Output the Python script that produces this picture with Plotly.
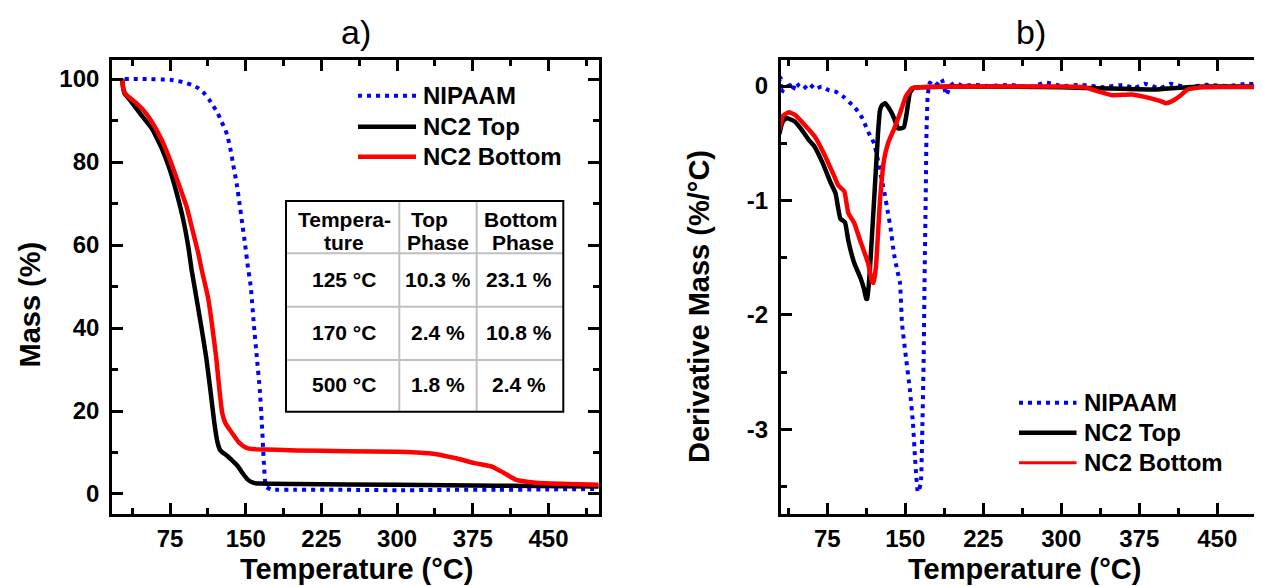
import plotly.graph_objects as go

# ---------------- data ----------------
series_names = ["NIPAAM", "NC2 Top", "NC2 Bottom"]

# a) Mass (%) vs Temperature (°C)
nipaam_mass_x = [30, 50, 75, 83.3, 90, 96.5, 103, 108.7, 113.6, 117.9, 122.2, 126.2, 129.5, 132.2, 135.1,
                 137.7, 141.1, 143.7, 146.6, 149.3, 152, 155, 158, 161, 164, 166, 168, 170, 175, 200, 250,
                 300, 350, 400, 450, 500]
nipaam_mass_y = [100, 100, 99.8, 99.5, 99.1, 98.6, 97.8, 96.6, 95.1, 93.5, 91.8, 89.6, 88, 86, 82.8,
                 79.2, 74.7, 70.3, 65.1, 60.3, 55, 50, 41, 33, 25, 17, 7.5, 1.8, 1.1, 1.0, 1.0,
                 0.9, 1.0, 1.0, 1.1, 1.2]

top_mass_x = [27.5, 28.5, 30, 35.4, 45.3, 56.9, 66.8, 75, 81.6, 88.2, 93.1, 96.4, 101, 106, 110.8, 115,
              119, 122, 124.6, 127, 130.6, 136, 142.5, 147, 152.3, 158, 165, 200, 300, 400, 500]
top_mass_y = [100, 98, 96.5, 94.9, 91.7, 88.1, 83.3, 78, 72.5, 66, 59.6, 54, 47.5, 40.3, 33, 25,
              17, 12.5, 10.6, 10, 9.4, 8.2, 6.6, 5, 3.4, 2.7, 2.5, 2.4, 2.2, 2.0, 1.8]

bottom_mass_x = [27.5, 28.2, 29, 32.1, 40.3, 48.6, 56.9, 66.8, 75, 83.3, 91.5, 98.1, 103, 106.4, 112.7,
                 116.5, 120.7, 124, 126.7, 130, 136.5, 143, 148, 152.3, 160, 200, 250, 300, 320, 339,
                 358.5, 376, 394, 405, 418, 437, 470, 503]
bottom_mass_y = [100, 98.5, 97.3, 96.1, 94.5, 92.5, 89.7, 85.3, 80.5, 74.9, 69.2, 62.8, 58, 54, 47.3,
                 41, 33, 25, 19.5, 17, 14.7, 12.5, 11.5, 11, 10.8, 10.5, 10.3, 10.2, 10.0, 9.6,
                 8.6, 7.5, 6.6, 5.2, 3.4, 2.7, 2.4, 2.2]

# b) Derivative Mass (%/°C) vs Temperature (°C)
nipaam_der_x = [29, 30.3, 31, 32.7, 36, 39, 41.7, 45, 47.8, 52, 57.7, 63, 69.6, 77, 83, 91.4, 96, 101,
                105, 108.6, 111.5, 114.3, 117, 120, 123.8, 126.5, 129.5, 133.4, 136, 139, 142, 144.9,
                146.8, 150.6, 154.5, 157.4, 159.3, 160.5, 162, 163.5, 165, 166.5, 167.7, 168.5, 169.6,
                170.4, 171.5, 173.5, 177, 181, 185, 189.5, 193, 198, 205, 215, 230, 250, 270, 285, 300,
                320, 340, 360, 370, 380, 395, 405, 420, 440, 460, 480, 500]
nipaam_der_y = [0.05, 0.07, -0.06, -0.03, -0.005, 0.01, -0.035, 0.03, 0.0, -0.026, 0.02, -0.026, -0.005,
                -0.04, -0.05, -0.1, -0.14, -0.18, -0.23, -0.28, -0.34, -0.4, -0.45, -0.5, -0.65, -0.78,
                -0.91, -1.11, -1.25, -1.46, -1.6, -1.72, -2.07, -2.37, -2.66, -2.95, -3.24, -3.4, -3.55,
                -3.52, -3.47, -2.95, -2.37, -1.72, -1.0, -0.41, -0.09, 0.03, 0.0, 0.02, 0.06, -0.08,
                0.0, 0.03, 0.0, 0.01, 0.0, 0.01, -0.01, 0.03, 0.0, 0.01, -0.01, 0.01, -0.02, 0.02,
                -0.02, 0.02, -0.01, 0.01, 0.0, 0.02, 0.0]

top_der_x = [29, 30.4, 32.3, 36, 43.7, 49.4, 57.1, 62.8, 70.4, 78, 83, 85.7, 87.6, 92, 95.2, 101, 106.6,
             110.5, 112.4, 113.5, 116, 120, 123.8, 125.7, 127.5, 130.7, 134, 137.2, 140, 143, 146, 148.7,
             151.3, 154.4, 158, 165, 200, 300, 333, 360, 391, 421.5, 440, 500]
top_der_y = [-0.42, -0.36, -0.31, -0.28, -0.31, -0.37, -0.47, -0.53, -0.67, -0.84, -0.94, -1.08, -1.16,
             -1.19, -1.35, -1.55, -1.67, -1.78, -1.86, -1.86, -1.6, -1.0, -0.41, -0.21, -0.17, -0.15,
             -0.19, -0.24, -0.3, -0.37, -0.37, -0.36, -0.24, -0.06, -0.015, -0.01, -0.005, -0.01,
             -0.02, -0.025, -0.03, -0.01, -0.005, -0.005]

bottom_der_x = [29, 30.4, 32.3, 38, 43.7, 53.3, 62.8, 72.3, 81.8, 85.7, 91.4, 95.2, 101, 106.6, 114.3,
                118, 119.5, 121.8, 125.7, 129.5, 133.4, 139, 144.9, 150.6, 156.3, 165, 200, 300, 322,
                333, 348.8, 368, 387, 395, 400.5, 407, 413.8, 421.5, 436, 500]
bottom_der_y = [-0.38, -0.33, -0.26, -0.23, -0.25, -0.34, -0.44, -0.6, -0.79, -0.87, -0.92, -1.11, -1.2,
                -1.35, -1.55, -1.71, -1.72, -1.58, -1.0, -0.65, -0.5, -0.38, -0.24, -0.09, -0.02, -0.01,
                -0.005, -0.005, -0.01, -0.04, -0.08, -0.075, -0.11, -0.13, -0.15, -0.13, -0.09, -0.03,
                -0.01, -0.01]

# inset table (panel a)
table_header_1 = ["Tempera-", "Top", "Bottom"]
table_header_2 = ["ture", "Phase", "Phase"]
table_rows = [["125 °C", "10.3 %", "23.1 %"],
              ["170 °C", "2.4 %", "10.8 %"],
              ["500 °C", "1.8 %", "2.4 %"]]

# tick labels
a_x_ticks = [75, 150, 225, 300, 375, 450]
a_y_ticks = [0, 20, 40, 60, 80, 100]
b_y_tickvals = [0, -1, -2, -3]
b_y_ticktext = ["0", "-1", "-2", "-3"]
b_y_minorvals = [-0.5, -1.5, -2.5, -3.5]

# ---------------- styling ----------------
W, H = 1262, 586
OFF = 8  # default page body margin the figure sits behind
FONT = "Arial, 'Liberation Sans', sans-serif"
colors = ["#0000ff", "#000000", "#ff0000"]
dot_dash = "4px,5px"
LW = 4.5


def fx(p):
    """page x pixel -> paper fraction"""
    return (p - OFF) / W


def fy(p):
    """page y pixel -> paper fraction"""
    return 1 - (p - OFF) / H


fig = go.Figure()

panels = [
    ("x", "y", [nipaam_mass_x, top_mass_x, bottom_mass_x], [nipaam_mass_y, top_mass_y, bottom_mass_y]),
    ("x2", "y2", [nipaam_der_x, top_der_x, bottom_der_x], [nipaam_der_y, top_der_y, bottom_der_y]),
]
for xa, ya, xs, ys in panels:
    for i in range(3):
        fig.add_trace(go.Scatter(
            x=xs[i], y=ys[i], xaxis=xa, yaxis=ya, mode="lines", name=series_names[i],
            showlegend=False,
            line=dict(color=colors[i], width=LW if i else 4, dash=dot_dash if i == 0 else "solid",
                      shape="spline", smoothing=0.35),
        ))

minor_common = dict(ticks="inside", ticklen=6, tickwidth=2.5, tickcolor="black")
axis_common = dict(
    showgrid=False, zeroline=False, showline=True, linecolor="black", linewidth=3,
    ticks="inside", ticklen=11, tickwidth=2.5, tickcolor="black", mirror="ticks",
    tickfont=dict(family=FONT, size=24, color="black", weight="bold"),
)

fig.update_layout(
    width=W, height=H, margin=dict(l=0, r=0, t=0, b=0),
    paper_bgcolor="white", plot_bgcolor="white",
    showlegend=False,
    xaxis=dict(axis_common, domain=[fx(112.2), fx(598.5)], range=[17.7, 499.6],
               tickvals=a_x_ticks, anchor="y", ticklabelstandoff=1,
               minor=dict(minor_common, dtick=37.5, tick0=0)),
    yaxis=dict(axis_common, domain=[fy(514.2), fy(59.8)], range=[-4.87, 104.63],
               tickvals=a_y_ticks, anchor="x", ticklabelstandoff=5,
               minor=dict(minor_common, dtick=10, tick0=0)),
    xaxis2=dict(axis_common, domain=[fx(780.8), fx(1267.5)], range=[30.3, 498.3],
                tickvals=a_x_ticks, anchor="y2", ticklabelstandoff=1,
                minor=dict(minor_common, dtick=37.5, tick0=0)),
    yaxis2=dict(axis_common, domain=[fy(513.8), fy(59.8)], range=[-3.739, 0.229],
                tickvals=b_y_tickvals, ticktext=b_y_ticktext, anchor="x2", ticklabelstandoff=5,
                minor=dict(minor_common, tickvals=b_y_minorvals)),
)

annotations = []
shapes = []


def text(x, y, s, size, xanchor="center", angle=0, bold=True):
    annotations.append(dict(x=fx(x), y=fy(y), xref="paper", yref="paper", text=s, showarrow=False,
                            xanchor=xanchor, yanchor="middle", textangle=angle,
                            font=dict(family=FONT, size=size, color="black",
                                      weight="bold" if bold else "normal")))


# panel titles and axis titles
text(356, 32, "a)", 34, bold=False)
text(1031, 32, "b)", 34, bold=False)
text(356, 569, "Temperature (°C)", 29)
text(1024, 569, "Temperature (°C)", 29)
text(29.5, 305, "Mass (%)", 29, angle=-90)
text(699, 307, "Derivative Mass (%/°C)", 29, angle=-90)

# legends
for (lx0, lx1, tx, ys) in [(358, 416, 420.5, [95.7, 126.7, 156.7]),
                           (1019, 1076.5, 1081.5, [402.7, 432.7, 462.7])]:
    for i, yy in enumerate(ys):
        w = LW
        if i == 0:
            w = 4
        if i == 2 and lx0 > 900:
            w = 3
        shapes.append(dict(type="line", xref="paper", yref="paper", x0=fx(lx0), x1=fx(lx1),
                           y0=fy(yy), y1=fy(yy),
                           line=dict(color=colors[i], width=w, dash=dot_dash if i == 0 else "solid")))
        text(tx, yy, series_names[i], 24, xanchor="left")

# table
tl, tr, tt, tb = 286, 563.3, 201, 411.7
col_sep = [399.3, 476.7]
row_sep = [253.3, 306.7, 360]
shapes.append(dict(type="rect", xref="paper", yref="paper", x0=fx(tl), x1=fx(tr), y0=fy(tb), y1=fy(tt),
                   fillcolor="white", line=dict(width=0), layer="above"))
for cx in col_sep:
    shapes.append(dict(type="line", xref="paper", yref="paper", x0=fx(cx), x1=fx(cx), y0=fy(tb), y1=fy(tt),
                       line=dict(color="#c0c0c0", width=2)))
for ry in row_sep:
    shapes.append(dict(type="line", xref="paper", yref="paper", x0=fx(tl), x1=fx(tr), y0=fy(ry), y1=fy(ry),
                       line=dict(color="#c0c0c0", width=2)))
shapes.append(dict(type="rect", xref="paper", yref="paper", x0=fx(tl), x1=fx(tr), y0=fy(tb), y1=fy(tt),
                   line=dict(color="black", width=2)))

hdr1_x = [344, 429.5, 520]
hdr2_x = [343.5, 438.3, 523]
col_x = [344, 438, 519]
for j in range(3):
    text(hdr1_x[j], 219.7, table_header_1[j], 21)
    text(hdr2_x[j], 242.4, table_header_2[j], 21)
row_y = [279, 332.4, 384]
for r, row in enumerate(table_rows):
    for j in range(3):
        text(col_x[j], row_y[r], row[j], 21)

fig.update_layout(annotations=annotations, shapes=shapes)
fig.write_html("out.html")
